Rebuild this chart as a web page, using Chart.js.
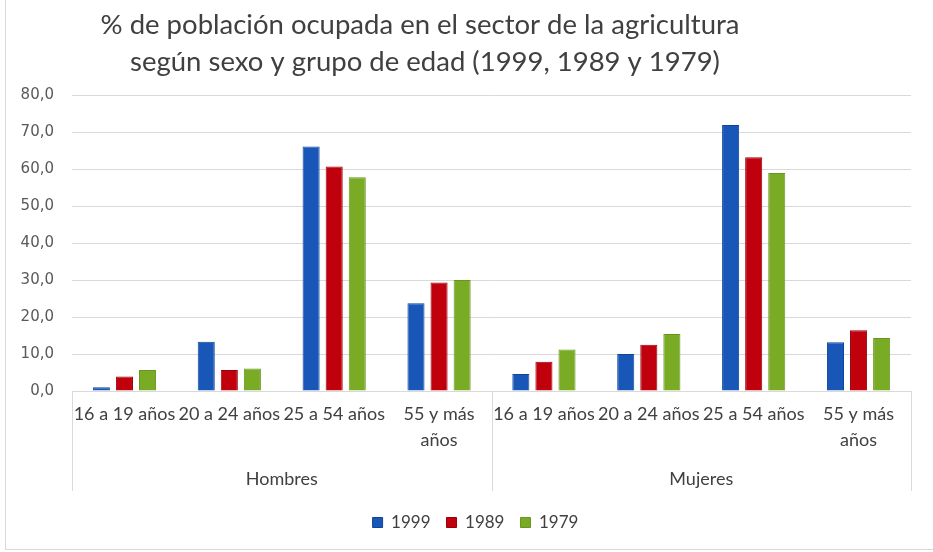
<!DOCTYPE html>
<html>
<head>
<meta charset="utf-8">
<script src="https://cdn.jsdelivr.net/npm/chart.js@4.4.0/dist/chart.umd.min.js"></script>
<style>
  html, body { margin: 0; padding: 0; background: #fff; }
  #wrap { position: relative; width: 933px; height: 552px; }
  #frame { position: absolute; left: 5px; top: -2px; width: 940px; height: 552px; border-left: 1px solid #d9d9d9; border-bottom: 1px solid #d9d9d9; box-sizing: border-box; pointer-events: none; }
  canvas { position: absolute; left: 0; top: 0; }
</style>
</head>
<body>
<div id="wrap">
  <canvas id="c" width="933" height="552"></canvas>
  <div id="frame"></div>
</div>
<script>
const titleLines = ['% de población ocupada en el sector de la agricultura', 'según sexo y grupo de edad (1999, 1989 y 1979)'];
const ageGroups = ['16 a 19 años', '20 a 24 años', '25 a 54 años', ['55 y más', 'años']];
const sexGroups = ['Hombres', 'Mujeres'];
const categories = [...ageGroups, ...ageGroups];
const seriesNames = ['1999', '1989', '1979'];
const values1999 = [1.0, 13.3, 66.1, 23.7, 4.6, 10.0, 71.9, 13.2];
const values1989 = [3.9, 5.7, 60.7, 29.3, 7.9, 12.5, 63.2, 16.4];
const values1979 = [5.7, 6.1, 57.8, 30.0, 11.2, 15.4, 58.9, 14.3];
const yTicks = { min: 0, max: 80, step: 10 };

const colors = ['#1857b8', '#c0000d', '#7aab24'];
const borders = ['#0f4599', '#9b0009', '#6a9620'];

const titlePlugin = {
  id: 'customTitle',
  afterDraw(chart) {
    const ctx = chart.ctx;
    ctx.save();
    ctx.fillStyle = '#404040';
    ctx.font = '27.5px Lato';
    ctx.textAlign = 'center';
    ctx.textBaseline = 'middle';
    ctx.fillText(titleLines[0], 420, 25);
    ctx.fillText(titleLines[1], 425, 62);
    ctx.restore();
  }
};

const legendShift = {
  id: 'legendShift',
  afterLayout(chart) {
    if (chart.legend) { chart.legend.left += 40; }
  }
};

const sepPlugin = {
  id: 'separators',
  afterDraw(chart) {
    const x = chart.scales.x, x2 = chart.scales.x2;
    const ctx = chart.ctx;
    const mid = x.getPixelForValue(ageGroups.length - 0.5);
    const xs = [chart.chartArea.left, mid, chart.chartArea.right];
    ctx.save();
    ctx.strokeStyle = '#d9d9d9';
    ctx.lineWidth = 1;
    xs.forEach(px => {
      const p = Math.round(px) + 0.5;
      ctx.beginPath();
      ctx.moveTo(p, chart.chartArea.bottom);
      ctx.lineTo(p, x2.top + 31);
      ctx.stroke();
    });
    ctx.restore();
  }
};

new Chart(document.getElementById('c'), {
  type: 'bar',
  data: {
    labels: categories,
    datasets: [
      { label: seriesNames[0], data: values1999, backgroundColor: colors[0], borderColor: borders[0], borderWidth: 1 },
      { label: seriesNames[1], data: values1989, backgroundColor: colors[1], borderColor: borders[1], borderWidth: 1 },
      { label: seriesNames[2], data: values1979, backgroundColor: colors[2], borderColor: borders[2], borderWidth: 1 }
    ]
  },
  plugins: [titlePlugin, sepPlugin, legendShift],
  options: {
    responsive: false,
    animation: false,
    layout: { padding: { top: 95, left: 0, right: 22, bottom: 11 } },
    datasets: { bar: { categoryPercentage: 0.66, barPercentage: 0.74 } },
    plugins: {
      title: { display: false },
      tooltip: { enabled: false },
      legend: {
        position: 'bottom',
        labels: {
          boxWidth: 10, boxHeight: 10, padding: 16,
          color: '#404040',
          font: { family: 'Lato', size: 17 }
        }
      }
    },
    scales: {
      x: {
        type: 'category',
        position: 'bottom',
        weight: 1,
        grid: { display: false },
        border: { display: true, color: '#d9d9d9' },
        ticks: {
          color: '#404040', maxRotation: 0, autoSkip: false, padding: 2,
          font: { family: 'Lato', size: 18, lineHeight: 1.45 }
        },
        afterFit(s) { s.height = 69; }
      },
      x2: {
        type: 'category',
        labels: sexGroups,
        position: 'bottom',
        weight: 2,
        offset: true,
        grid: { display: false },
        border: { display: false },
        ticks: { color: '#404040', padding: 0, font: { family: 'Lato', size: 18, lineHeight: 1.2 } },
        afterFit(s) { s.height = 38; }
      },
      y: {
        min: yTicks.min, max: yTicks.max,
        grid: { color: '#d9d9d9', drawTicks: false },
        border: { display: false },
        ticks: {
          stepSize: yTicks.step, padding: 18, color: '#595959',
          font: { family: 'DejaVu Sans', size: 15 },
          callback: v => v.toFixed(1).replace('.', ',')
        },
        afterFit(s) { s.width = 72; }
      }
    }
  }
});
</script>
</body>
</html>
